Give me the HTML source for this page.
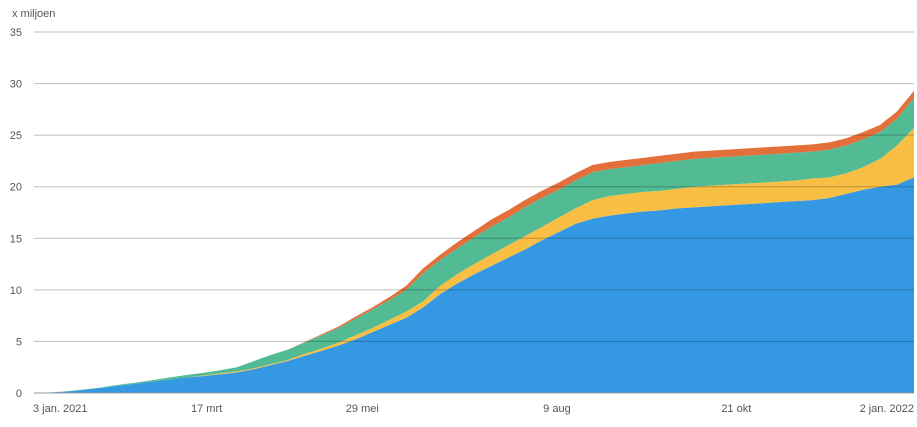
<!DOCTYPE html>
<html><head><meta charset="utf-8">
<style>
body{margin:0;background:#fff;font-family:"Liberation Sans",sans-serif;}
svg text{font-family:"Liberation Sans",sans-serif;font-size:11px;fill:#555;}
</style></head>
<body>
<svg id="chart" width="917" height="422" xmlns="http://www.w3.org/2000/svg">
<text x="12" y="17">x miljoen</text>
<g id="areas"></g>
<g id="grid"></g>
<g id="yticks"></g>
<g id="xticks"></g>
</svg>
<script>
const weeks = Array.from({length:53},(_,i)=>i);
const blueValues=[0,0.05,0.15,0.3,0.5,0.7,0.9,1.1,1.3,1.5,1.65,1.8,2.0,2.3,2.7,3.1,3.6,4.1,4.6,5.2,5.9,6.6,7.3,8.3,9.6,10.6,11.5,12.3,13.1,13.9,14.8,15.6,16.4,16.9,17.2,17.4,17.6,17.7,17.9,18.0,18.1,18.2,18.3,18.4,18.5,18.6,18.7,18.9,19.3,19.7,20.0,20.2,20.9];
const yellowValues=[0,0,0,0,0,0,0,0,0,0,0.05,0.1,0.1,0.1,0.1,0.1,0.2,0.2,0.3,0.4,0.4,0.5,0.6,0.6,0.8,0.9,1.0,1.1,1.2,1.3,1.3,1.4,1.5,1.8,1.9,1.9,1.9,1.9,1.9,2.0,2.0,2.0,2.0,2.0,2.0,2.0,2.1,2.0,2.0,2.2,2.7,3.8,4.8];
const greenValues=[0,0.01,0.03,0.05,0.05,0.1,0.1,0.15,0.2,0.25,0.25,0.3,0.4,0.7,0.9,1.0,1.1,1.3,1.4,1.6,1.8,1.9,2.1,2.7,2.5,2.5,2.6,2.7,2.7,2.8,2.8,2.7,2.7,2.7,2.6,2.6,2.6,2.7,2.7,2.7,2.7,2.7,2.7,2.7,2.7,2.7,2.6,2.7,2.7,2.7,2.6,2.6,2.9];
const orangeValues=[0,0,0,0,0,0,0,0,0,0,0,0,0,0,0,0,0.05,0.1,0.15,0.2,0.2,0.3,0.4,0.5,0.5,0.6,0.6,0.7,0.7,0.7,0.7,0.7,0.7,0.7,0.7,0.7,0.7,0.7,0.7,0.7,0.7,0.7,0.7,0.7,0.7,0.7,0.7,0.7,0.7,0.7,0.7,0.7,0.7];
const yTicks=[0,5,10,15,20,25,30,35];
const xTickLabels=["3 jan. 2021","17 mrt","29 mei","9 aug","21 okt","2 jan. 2022"];
const xTickWeeks=[0,10.2,19.4,30.9,41.5,52];

const X0=34,X1=914,Y0=393,Y1=32,YMAX=35;
const xs=w=>X0+(X1-X0)*w/(weeks.length-1);
const ys=v=>Y0-(Y0-Y1)*v/YMAX;
const NS="http://www.w3.org/2000/svg";
const series=[["blue",blueValues,"#3598e2"],["yellow",yellowValues,"#f8bf44"],["green",greenValues,"#52bb94"],["orange",orangeValues,"#e3703a"]];
let base=weeks.map(()=>0);
const areas=document.getElementById('areas');
series.forEach(([name,vals,col])=>{
  const top=base.map((b,i)=>b+vals[i]);
  let d="M"+weeks.map(i=>xs(i)+","+ys(top[i])).join("L");
  for(let i=weeks.length-1;i>=0;i--) d+="L"+xs(i)+","+ys(base[i]);
  d+="Z";
  const p=document.createElementNS(NS,'path');
  p.setAttribute('d',d);p.setAttribute('fill',col);
  
  
  areas.appendChild(p);
  base=top;
});
const grid=document.getElementById('grid'),yt=document.getElementById('yticks');
yTicks.forEach(v=>{
  const l=document.createElementNS(NS,'line');
  l.setAttribute('x1',34);l.setAttribute('x2',914);
  l.setAttribute('y1',ys(v));l.setAttribute('y2',ys(v));
  l.setAttribute('stroke',v===0?'#999':'rgba(0,0,0,0.25)');l.setAttribute('stroke-width',1);
  
  
  grid.appendChild(l);
  const t=document.createElementNS(NS,'text');
  t.setAttribute('x',22);t.setAttribute('y',ys(v)+4);t.setAttribute('text-anchor','end');
  t.textContent=v;
  
  
  yt.appendChild(t);
});
const xt=document.getElementById('xticks');
xTickLabels.forEach((lab,i)=>{
  const t=document.createElementNS(NS,'text');
  const anchor=i===0?'start':(i===xTickLabels.length-1?'end':'middle');
  t.setAttribute('x',xs(xTickWeeks[i])-(i===0?1:0));t.setAttribute('y',412);
  t.setAttribute('text-anchor',anchor);
  t.textContent=lab;
  
  
  xt.appendChild(t);
});
</script>
</body></html>
